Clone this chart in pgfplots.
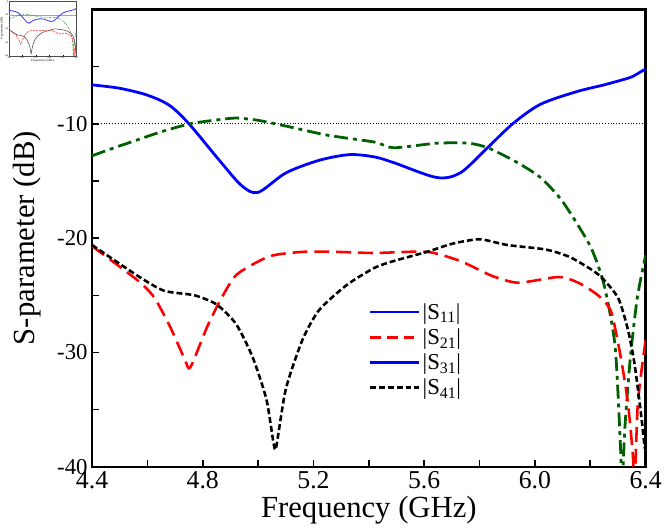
\documentclass[border=0pt]{standalone}
\usepackage{fontspec}
\setmainfont{Liberation Serif}
\usepackage{pgfplots}
\usepackage{pgfplotstable}
\pgfplotsset{compat=1.18}
\definecolor{dgreen}{RGB}{0,95,0}
\definecolor{myblue}{RGB}{0,0,255}
\definecolor{myred}{RGB}{255,0,0}

\pgfplotstableread{
x y
4.40 -6.6
4.50 -6.9
4.60 -7.5
4.68 -8.4
4.75 -10.0
4.86 -13.2
4.94 -15.4
5.00 -16.0
5.10 -14.3
5.22 -13.2
5.33 -12.7
5.42 -12.9
5.49 -13.4
5.645 -14.7
5.73 -14.3
5.82 -12.3
5.92 -10.0
6.02 -8.3
6.15 -7.2
6.25 -6.6
6.31 -6.2
6.35 -5.9
6.40 -5.2
}\sOneOne

\pgfplotstableread{
x y
4.40 -20.7
4.565 -23.7
4.625 -25.2
4.683 -27.8
4.735 -30.6
4.755 -31.3
4.815 -27.8
4.862 -25.5
4.922 -23.2
5.04 -21.6
5.16 -21.2
5.28 -21.2
5.42 -21.3
5.61 -21.2
5.73 -22.0
5.845 -23.3
5.94 -23.9
6.085 -23.4
6.157 -23.9
6.228 -25.0
6.275 -26.4
6.31 -30.4
6.336 -34.4
6.354 -39.0
6.36 -42.0
6.372 -34.4
6.40 -28.9
}\sTwoOne

\pgfplotstableread{
x y
4.40 -12.8
4.48 -12.1
4.565 -11.4
4.65 -10.7
4.754 -10.0
4.84 -9.7
4.92 -9.5
5.00 -9.7
5.10 -10.2
5.25 -11.0
5.42 -11.6
5.49 -12.1
5.645 -11.7
5.76 -11.7
5.83 -12.1
5.93 -13.3
6.02 -14.7
6.10 -16.8
6.20 -20.7
6.25 -24.1
6.29 -29.5
6.31 -38.7
6.315 -42.0
6.325 -36.6
6.345 -30.4
6.37 -25.2
6.40 -21.5
}\sThreeOne

\pgfplotstableread{
x y
4.40 -20.6
4.565 -23.3
4.66 -24.6
4.77 -25.0
4.85 -25.8
4.92 -27.5
4.98 -30.4
5.03 -34.1
5.055 -37.8
5.065 -38.3
5.10 -33.2
5.16 -28.9
5.22 -26.3
5.32 -24.1
5.42 -22.6
5.49 -22.0
5.61 -21.2
5.70 -20.5
5.80 -20.1
5.90 -20.6
6.04 -21.0
6.13 -21.7
6.23 -23.2
6.30 -25.2
6.336 -28.0
6.36 -31.0
6.383 -35.3
6.397 -38.4
}\sFourOne

\begin{document}
\begin{tikzpicture}
\begin{axis}[
  name=main,
  scale only axis,
  width=559bp, height=462bp,
  xmin=4.4, xmax=6.4, ymin=-40, ymax=0,
  clip=true,
  axis line style={line width=2.4bp},
  tick pos=left, tick align=inside,
  major tick length=7bp, minor tick length=7bp,
  every tick/.style={black, line width=1.6bp},
  xtick={4.4,4.8,5.2,5.6,6.0,6.4},
  xticklabels={4.4,4.8,5.2,5.6,6.0,6.4},
  minor xtick={4.6,5.0,5.4,5.8,6.2},
  ytick={-40,-30,-20,-10},
  yticklabels={-40,-30,-20,-10},
  minor ytick={-35,-25,-15,-5},
  /pgf/number format/assume math mode=true,
  xticklabel style={font=\rmfamily\fontsize{26bp}{30bp}\selectfont, yshift=-1bp},
  yticklabel style={font=\rmfamily\fontsize{23bp}{27bp}\selectfont, xshift=-1bp},
  label style={font=\rmfamily\fontsize{31bp}{35bp}\selectfont},
  xlabel={Frequency (GHz)},
  ylabel={S-parameter (dB)},
  xlabel style={yshift=-1bp},
  ylabel style={yshift=10bp},
  legend style={draw=none, fill=none, at={(rel axis cs:0.499,0.362)}, anchor=north west,
    font=\rmfamily\fontsize{23bp}{26bp}\selectfont, row sep=4bp, inner sep=0pt,
    /tikz/every even column/.append style={column sep=6bp}},
  legend cell align=left,
  legend image code/.code={\draw[#1] (0bp,0bp) -- (50bp,0bp);},
]
\addplot[black, line width=0.9bp, dotted, forget plot] coordinates {(4.4,-10) (6.4,-10)};
\addplot[myblue, line width=2.8bp, smooth, tension=0.5, forget plot] table {\sOneOne};
\addplot[dgreen, line width=2.8bp, smooth, tension=0.4, dash pattern=on 14bp off 5bp on 4bp off 5bp, forget plot] table {\sThreeOne};
\addplot[myred, line width=2.6bp, smooth, tension=0.4, dash pattern=on 15bp off 7bp, forget plot] table {\sTwoOne};
\addplot[black, line width=2.6bp, smooth, tension=0.4, dash pattern=on 6bp off 3bp, forget plot] table {\sFourOne};
\addlegendimage{myblue, line width=2.8bp}
\addlegendentry{|S\textsubscript{11}|}
\addlegendimage{myred, line width=2.6bp, dash pattern=on 11bp off 6bp}
\addlegendentry{|S\textsubscript{21}|}
\addlegendimage{myblue, line width=2.8bp}
\addlegendentry{|S\textsubscript{31}|}
\addlegendimage{black, line width=2.6bp, dash pattern=on 6bp off 3bp}
\addlegendentry{|S\textsubscript{41}|}
\end{axis}
\begin{axis}[
  at={(main.north west)}, anchor=north west, xshift=-84bp, yshift=8bp,
  scale only axis,
  width=68bp, height=55bp,
  xmin=4.4, xmax=6.4, ymin=-40, ymax=0,
  axis line style={line width=0.4bp, black!70},
  tick pos=left, tick align=inside,
  major tick length=1bp,
  every tick/.style={black, line width=0.3bp},
  xtick={4.4,4.8,5.2,5.6,6.0,6.4},
  xticklabels={4.4,4.8,5.2,5.6,6.0,6.4},
  ytick={-40,-30,-20,-10,0},
  yticklabels={-40,-30,-20,-10,0},
  tick label style={font=\rmfamily\fontsize{2.6bp}{3bp}\selectfont, inner sep=0.6bp},
  label style={font=\rmfamily\fontsize{3.2bp}{4bp}\selectfont, inner sep=0.5bp},
  xlabel={Frequency (GHz)},
  ylabel={S-parameter (dB)},
]
\addplot[black!35, line width=0.7bp] coordinates {(4.4,-10) (6.4,-10)};
\addplot[myblue!80, line width=0.8bp, smooth, tension=0.5] table {\sOneOne};
\addplot[dgreen!80!white, line width=0.5bp, smooth, tension=0.4, dash pattern=on 2bp off 1bp on 0.6bp off 1bp] table {\sThreeOne};
\addplot[myred!85, line width=0.6bp, smooth, tension=0.4, dash pattern=on 2bp off 1bp] table {\sTwoOne};
\addplot[black!75, line width=0.5bp, smooth, tension=0.4] table {\sFourOne};
\end{axis}
\end{tikzpicture}
\end{document}
